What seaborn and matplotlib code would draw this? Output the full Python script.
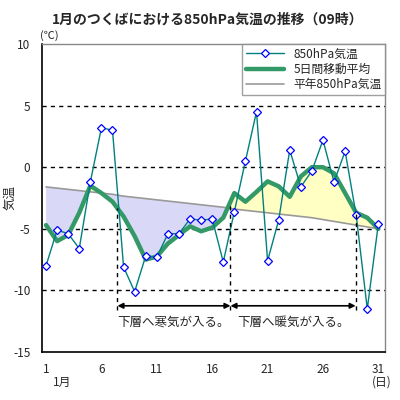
import numpy as np
import pandas as pd
import matplotlib
matplotlib.use("Agg")
import matplotlib.pyplot as plt
import seaborn as sns

days = list(range(1, 32))
temp850 = [-8.0, -5.1, -5.4, -6.6, -1.2, 3.2, 3.0, -8.1, -10.1, -7.2, -7.3, -5.4, -5.4,
           -4.2, -4.3, -4.2, -7.7, -3.6, 0.5, 4.5, -7.6, -4.3, 1.4, -1.6, -0.3, 2.2,
           -1.2, 1.3, -3.9, -11.5, -4.6]
ma5 = [-4.7, -6.0, -5.5, -3.7, -1.5, -2.1, -2.8, -4.0, -5.6, -7.5, -7.25, -6.2, -5.5,
       -4.8, -5.2, -4.9, -4.1, -2.1, -2.8, -2.0, -1.15, -1.55, -2.4, -0.75, 0.0, 0.0,
       -0.5, -2.1, -3.7, -4.1, -5.0]
normal = [-1.6, -1.7, -1.8, -1.9, -2.0, -2.1, -2.2, -2.35, -2.45, -2.55, -2.65, -2.75,
          -2.85, -2.95, -3.05, -3.15, -3.25, -3.4, -3.5, -3.6, -3.7, -3.8, -3.9, -4.0,
          -4.1, -4.25, -4.4, -4.55, -4.7, -4.85, -5.0]
xticks = [1, 6, 11, 16, 21, 26, 31]
yticks = [-15, -10, -5, 0, 5, 10]
period_bounds = [7.45, 17.65, 28.95]
period_labels = ["下層へ寒気が入る。", "下層へ暖気が入る。"]

sns.set_style("white")
plt.rcParams['font.family'] = ['Noto Sans CJK JP', 'DejaVu Sans']
plt.rcParams['axes.unicode_minus'] = False

df = pd.DataFrame({"day": days, "t": temp850, "ma": ma5, "n": normal})

fig = plt.figure(figsize=(4, 4), dpi=100)
ax = fig.add_axes([0.104, 0.12, 0.8585, 0.77])

x = np.array(days, dtype=float)
ma = np.array(ma5)
nm = np.array(normal)
ax.fill_between(x, ma, nm, where=ma <= nm, interpolate=True, color="#D9D9F7", lw=0, zorder=1)
ax.fill_between(x, ma, nm, where=ma >= nm, interpolate=True, color="#FFFFC4", lw=0, zorder=1)

for yv in [5, 0, -5, -10]:
    ax.axhline(yv, color="black", ls=(0, (3, 3)), lw=1, zorder=0.5)

sns.lineplot(data=df, x="day", y="n", ax=ax, color="#999999", lw=1.2, label="平年850hPa気温", zorder=2)
sns.lineplot(data=df, x="day", y="ma", ax=ax, color="#339966", lw=3.2, label="5日間移動平均", zorder=3)
sns.lineplot(data=df, x="day", y="t", ax=ax, color="#008080", lw=1, marker="D", markersize=3.8,
             markerfacecolor="white", markeredgecolor="#0000FF", markeredgewidth=0.9,
             label="850hPa気温", zorder=4)

# period markers
ybot = -11.6
for b in period_bounds:
    top = float(np.interp(b, x, ma))
    ax.plot([b, b], [ybot, top], color="black", ls=(0, (3, 3)), lw=1, zorder=5)
arrow_y = -11.25
for i in range(2):
    ax.annotate("", xy=(period_bounds[i], arrow_y), xytext=(period_bounds[i + 1], arrow_y),
                arrowprops=dict(arrowstyle="<|-|>", color="black", lw=1.2,
                                mutation_scale=8, shrinkA=0, shrinkB=0), zorder=5)
    ax.text((period_bounds[i] + period_bounds[i + 1]) / 2, -12.6, period_labels[i],
            ha="center", va="center", fontsize=9)

ax.set_xlim(0.6, 31.6)
ax.set_ylim(-15, 10)
ax.set_xticks(xticks)
ax.set_xticks(days, minor=True)
ax.set_yticks(yticks)
ax.tick_params(axis="x", which="both", direction="in", length=3, labelsize=8.5, pad=8)
ax.tick_params(axis="y", length=0, labelsize=8.5, pad=8)
ax.set_xlabel("")
ax.set_ylabel("気温", fontsize=9)
ax.yaxis.set_label_coords(-0.072, 0.5)

for s in ["left", "bottom"]:
    ax.spines[s].set_color("black")
    ax.spines[s].set_linewidth(1.2)
for s in ["top", "right"]:
    ax.spines[s].set_color("#888888")
    ax.spines[s].set_linewidth(1)

handles, labels = ax.get_legend_handles_labels()
order = [2, 1, 0]
leg = ax.legend([handles[i] for i in order], [labels[i] for i in order], loc="upper right",
                fontsize=8.5, frameon=True, fancybox=False, edgecolor="#888888", numpoints=1,
                borderaxespad=0.0, handlelength=3.2, labelspacing=0.2, borderpad=0.3)
leg.get_frame().set_linewidth(1)

fig.text(0.52, 0.95, "1月のつくばにおける850hPa気温の推移（09時）", ha="center", va="center",
         fontsize=10, fontweight="bold")
fig.text(0.10, 0.91, "(℃)", ha="left", va="center", fontsize=8)
fig.text(0.155, 0.045, "1月", ha="center", va="center", fontsize=8.5)
fig.text(0.955, 0.045, "(日)", ha="center", va="center", fontsize=8.5)

fig.savefig("out.png", dpi=100)
